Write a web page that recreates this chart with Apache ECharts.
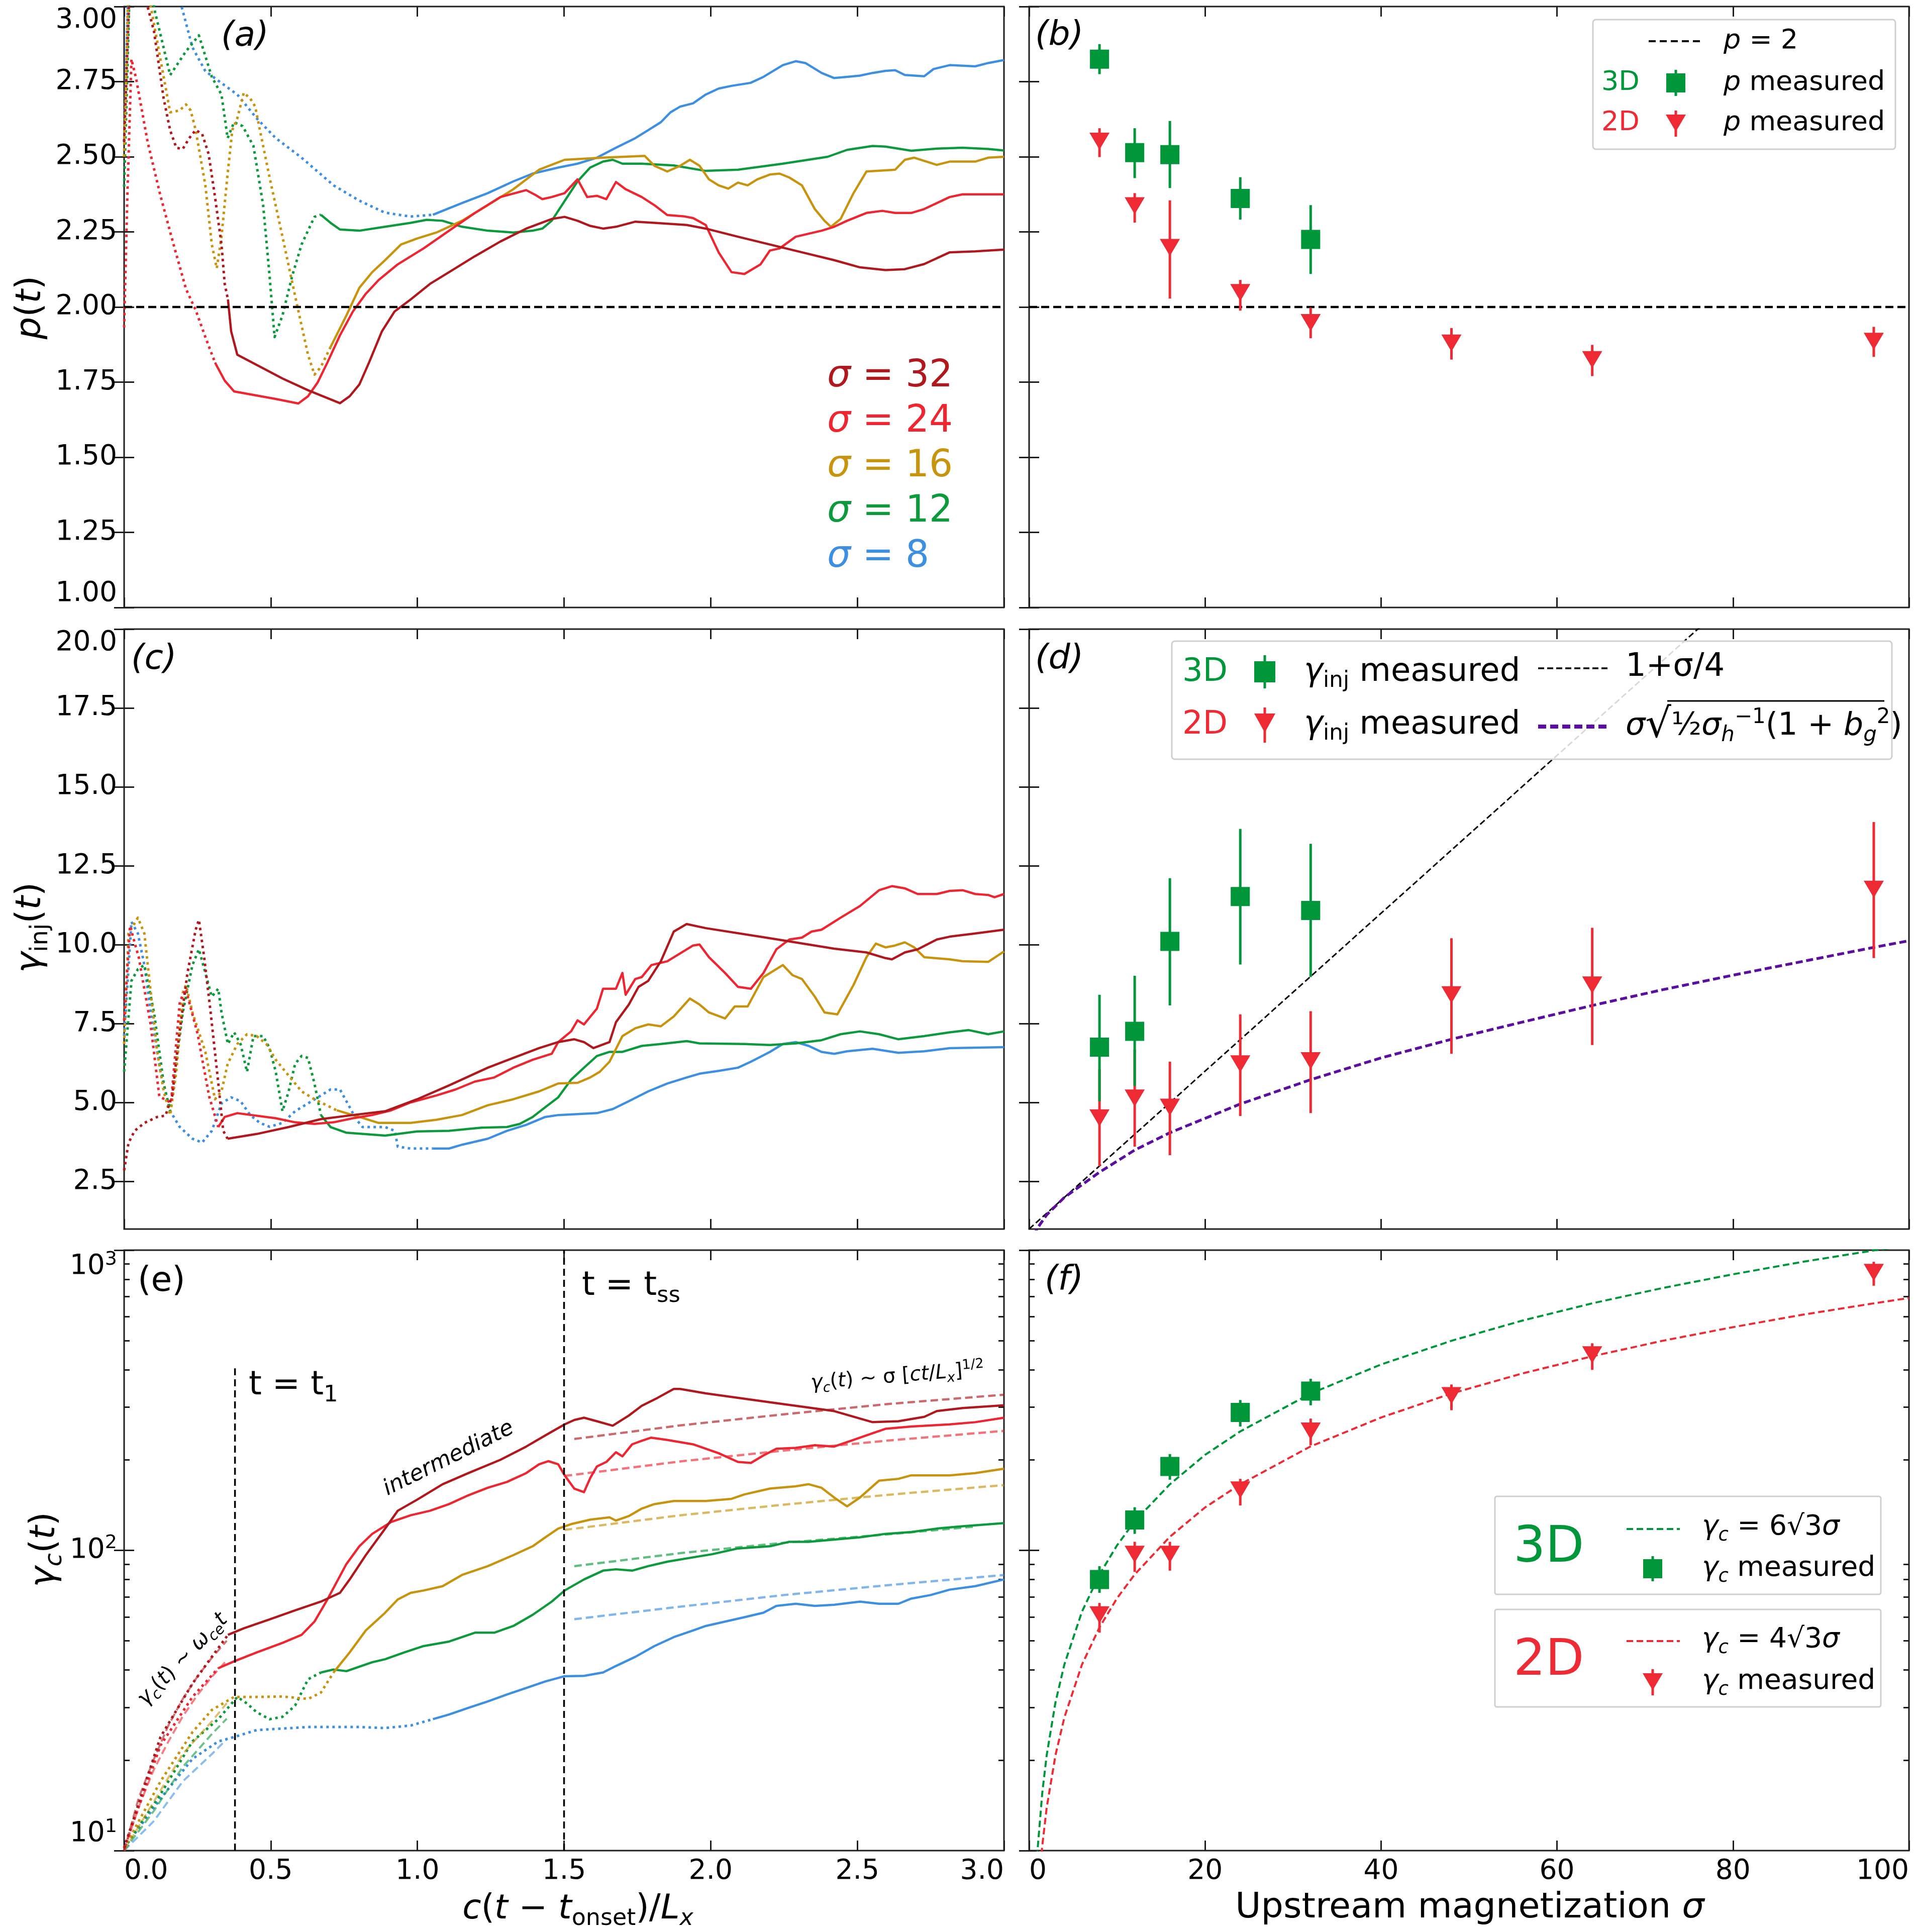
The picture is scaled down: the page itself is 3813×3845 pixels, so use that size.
<!DOCTYPE html>
<html><head><meta charset="utf-8">
<script src="https://cdn.jsdelivr.net/npm/echarts@6.0.0/dist/echarts.min.js"></script>
<style>html,body{margin:0;padding:0;background:#fff;}#chart{width:3813px;height:3845px;}</style>
</head><body><div id="chart"></div>
<script>
// ---------------- DATA ----------------
// panel (a): p(t) curves, [c(t-t_onset)/Lx, p]
const a32dot = [[0.0,2.55],[0.02,3.1],[0.07,3.1],[0.080,3.0],[0.102,2.917],[0.135,2.693],[0.157,2.588],[0.178,2.530],[0.200,2.526],[0.222,2.562],[0.244,2.589],[0.266,2.576],[0.288,2.510],[0.310,2.366],[0.332,2.208],[0.343,2.077],[0.354,2.025]];
const a32sol = [[0.354,2.025],[0.365,1.919],[0.386,1.841],[0.540,1.762],[0.627,1.723],[0.736,1.680],[0.769,1.703],[0.802,1.742],[0.835,1.815],[0.879,1.919],[0.922,1.985],[0.977,2.025],[1.043,2.077],[1.108,2.116],[1.196,2.169],[1.283,2.218],[1.371,2.261],[1.458,2.293],[1.502,2.300],[1.546,2.287],[1.589,2.270],[1.633,2.261],[1.677,2.267],[1.743,2.284],[1.808,2.280],[1.918,2.273],[1.983,2.261],[2.093,2.234],[2.202,2.208],[2.311,2.182],[2.421,2.156],[2.509,2.132],[2.596,2.123],[2.662,2.126],[2.728,2.143],[2.815,2.182],[2.902,2.185],[3.0,2.191]];
const a24dot = [[0.0,1.932],[0.011,2.366],[0.025,2.825],[0.041,2.76],[0.080,2.55],[0.124,2.37],[0.168,2.21],[0.211,2.06],[0.244,1.99],[0.277,1.90],[0.310,1.815]];
const a24sol = [[0.310,1.815],[0.343,1.755],[0.375,1.719],[0.517,1.694],[0.594,1.679],[0.627,1.703],[0.660,1.749],[0.693,1.815],[0.736,1.906],[0.780,1.985],[0.824,2.044],[0.868,2.090],[0.933,2.142],[1.021,2.195],[1.108,2.254],[1.196,2.313],[1.283,2.366],[1.371,2.389],[1.404,2.372],[1.426,2.359],[1.458,2.366],[1.502,2.379],[1.546,2.425],[1.557,2.405],[1.579,2.366],[1.612,2.370],[1.644,2.359],[1.677,2.416],[1.710,2.392],[1.765,2.366],[1.808,2.339],[1.852,2.306],[1.907,2.302],[1.940,2.296],[1.983,2.273],[2.027,2.182],[2.071,2.116],[2.115,2.110],[2.170,2.142],[2.202,2.188],[2.235,2.195],[2.290,2.234],[2.378,2.254],[2.421,2.267],[2.465,2.287],[2.531,2.313],[2.585,2.320],[2.629,2.313],[2.684,2.313],[2.728,2.326],[2.815,2.366],[2.859,2.375],[3.0,2.375]];
const a16dot = [[0.0,2.5],[0.015,3.1],[0.084,3.1],[0.091,3.0],[0.157,2.648],[0.189,2.654],[0.211,2.674],[0.227,2.654],[0.244,2.589],[0.277,2.405],[0.299,2.208],[0.316,2.129],[0.332,2.234],[0.353,2.444],[0.369,2.589],[0.386,2.628],[0.408,2.713],[0.430,2.694],[0.447,2.667],[0.463,2.589],[0.496,2.431],[0.540,2.234],[0.583,2.037],[0.627,1.841],[0.649,1.775],[0.671,1.801],[0.704,1.867]];
const a16sol = [[0.704,1.867],[0.758,1.972],[0.802,2.064],[0.846,2.116],[0.890,2.156],[0.944,2.208],[0.999,2.228],[1.065,2.248],[1.152,2.287],[1.240,2.339],[1.327,2.392],[1.415,2.457],[1.502,2.490],[1.633,2.497],[1.775,2.503],[1.808,2.470],[1.852,2.451],[1.896,2.470],[1.929,2.490],[1.962,2.470],[1.994,2.425],[2.027,2.405],[2.060,2.394],[2.093,2.414],[2.126,2.405],[2.159,2.425],[2.202,2.441],[2.235,2.444],[2.268,2.431],[2.311,2.405],[2.355,2.326],[2.388,2.287],[2.410,2.267],[2.443,2.293],[2.487,2.379],[2.531,2.451],[2.596,2.455],[2.629,2.457],[2.662,2.490],[2.694,2.497],[2.771,2.473],[2.815,2.484],[2.902,2.484],[2.946,2.497],[3.0,2.500]];
const a12dot = [[0.0,2.40],[0.02,3.1],[0.09,3.1],[0.102,2.996],[0.157,2.772],[0.211,2.851],[0.255,2.904],[0.299,2.766],[0.332,2.707],[0.353,2.562],[0.375,2.615],[0.404,2.602],[0.441,2.536],[0.474,2.339],[0.496,2.103],[0.513,1.900],[0.540,1.972],[0.573,2.103],[0.605,2.208],[0.649,2.300],[0.671,2.307]];
const a12sol = [[0.671,2.307],[0.704,2.280],[0.736,2.258],[0.802,2.254],[0.890,2.267],[0.977,2.280],[1.032,2.290],[1.086,2.287],[1.152,2.267],[1.240,2.254],[1.327,2.248],[1.393,2.254],[1.426,2.261],[1.458,2.287],[1.502,2.353],[1.546,2.418],[1.589,2.464],[1.633,2.484],[1.666,2.490],[1.699,2.477],[1.765,2.477],[1.874,2.471],[1.983,2.453],[2.093,2.457],[2.246,2.477],[2.399,2.500],[2.465,2.523],[2.552,2.536],[2.596,2.534],[2.684,2.520],[2.771,2.527],[2.859,2.530],[2.946,2.526],[3.0,2.521]];
const a8dot = [[0.0,2.55],[0.015,3.1],[0.19,3.1],[0.196,3.0],[0.233,2.864],[0.277,2.785],[0.331,2.746],[0.386,2.707],[0.452,2.628],[0.517,2.562],[0.605,2.497],[0.714,2.405],[0.802,2.354],[0.889,2.314],[0.977,2.301],[1.053,2.307]];
const a8sol = [[1.053,2.307],[1.152,2.346],[1.240,2.379],[1.327,2.418],[1.393,2.444],[1.480,2.464],[1.546,2.477],[1.612,2.497],[1.677,2.530],[1.743,2.562],[1.786,2.588],[1.830,2.615],[1.863,2.648],[1.896,2.667],[1.940,2.678],[1.983,2.707],[2.027,2.727],[2.071,2.736],[2.136,2.746],[2.180,2.766],[2.202,2.779],[2.246,2.805],[2.290,2.818],[2.323,2.812],[2.378,2.779],[2.421,2.762],[2.465,2.766],[2.509,2.770],[2.552,2.779],[2.596,2.786],[2.629,2.788],[2.662,2.772],[2.728,2.768],[2.760,2.792],[2.815,2.805],[2.902,2.801],[2.946,2.812],[3.0,2.822]];
const pRef = [[0,2],[3,2]];
const pRefB = [[0,2],[100,2]];

// panel (c): gamma_inj(t)
const c32dot = [[0.0,2.86],[0.015,3.73],[0.036,4.11],[0.069,4.36],[0.113,4.55],[0.141,4.59],[0.164,5.23],[0.189,7.23],[0.216,9.11],[0.244,10.48],[0.255,10.79],[0.273,9.61],[0.295,7.86],[0.317,5.98],[0.338,4.11],[0.353,3.86]];
const c32sol = [[0.353,3.86],[0.452,4.01],[0.561,4.23],[0.671,4.48],[0.780,4.61],[0.890,4.73],[0.999,5.11],[1.108,5.55],[1.240,6.11],[1.327,6.42],[1.415,6.73],[1.480,6.92],[1.535,7.01],[1.568,6.92],[1.600,6.73],[1.655,6.92],[1.677,7.55],[1.721,8.11],[1.754,8.67],[1.787,8.86],[1.830,9.48],[1.874,10.42],[1.918,10.66],[1.983,10.53],[2.202,10.21],[2.421,9.88],[2.531,9.76],[2.596,9.58],[2.618,9.54],[2.662,9.76],[2.706,9.86],[2.771,10.17],[2.815,10.26],[2.902,10.36],[3.0,10.48]];
const c24dot = [[0.0,7.6],[0.02,10.6],[0.05,9.6],[0.09,7.5],[0.12,5.2],[0.16,5.0],[0.19,8.2],[0.21,8.6],[0.25,7.2],[0.29,5.2],[0.321,4.23]];
const c24sol = [[0.321,4.23],[0.343,4.55],[0.386,4.67],[0.517,4.51],[0.583,4.38],[0.649,4.33],[0.714,4.38],[0.780,4.51],[0.846,4.61],[0.911,4.76],[0.977,5.01],[1.065,5.23],[1.130,5.42],[1.196,5.67],[1.262,5.80],[1.327,6.11],[1.393,6.36],[1.458,6.55],[1.480,6.92],[1.524,7.26],[1.546,7.61],[1.568,7.48],[1.612,7.98],[1.633,8.61],[1.677,8.61],[1.699,9.11],[1.710,8.42],[1.743,8.92],[1.765,8.98],[1.798,9.36],[1.852,9.48],[1.896,9.73],[1.940,9.98],[1.962,10.01],[1.994,9.61],[2.049,9.11],[2.093,8.67],[2.137,8.61],[2.180,9.11],[2.224,9.86],[2.268,10.17],[2.311,10.23],[2.344,10.42],[2.378,10.48],[2.443,10.86],[2.509,11.23],[2.574,11.73],[2.618,11.86],[2.662,11.79],[2.706,11.61],[2.771,11.61],[2.815,11.71],[2.859,11.73],[2.902,11.61],[2.946,11.58],[2.968,11.51],[3.0,11.61]];
const c16dot = [[0.0,6.86],[0.015,10.36],[0.047,10.86],[0.069,10.36],[0.091,8.48],[0.113,6.61],[0.135,5.36],[0.157,4.61],[0.178,5.98],[0.200,8.48],[0.211,8.73],[0.233,7.86],[0.277,6.61],[0.310,5.11],[0.332,5.36],[0.353,6.23],[0.386,6.86],[0.419,7.17],[0.452,7.11],[0.485,6.86],[0.517,6.36],[0.561,5.86],[0.605,5.36],[0.649,5.11],[0.725,4.76]];
const c16sol = [[0.725,4.76],[0.758,4.67],[0.802,4.55],[0.868,4.36],[0.977,4.36],[1.065,4.46],[1.152,4.61],[1.240,4.92],[1.327,5.11],[1.415,5.36],[1.480,5.61],[1.546,5.63],[1.589,5.80],[1.622,5.98],[1.655,6.30],[1.699,7.11],[1.743,7.36],[1.787,7.48],[1.830,7.42],[1.874,7.73],[1.929,8.30],[1.962,8.11],[1.994,7.86],[2.049,7.67],[2.082,8.05],[2.126,8.05],[2.180,8.98],[2.246,9.36],[2.279,9.04],[2.311,8.92],[2.355,8.36],[2.388,7.86],[2.432,7.80],[2.487,8.73],[2.531,9.61],[2.563,10.04],[2.596,9.92],[2.629,9.98],[2.662,10.08],[2.694,9.92],[2.728,9.61],[2.815,9.54],[2.859,9.48],[2.946,9.46],[3.0,9.79]];
const c12dot = [[0.0,5.98],[0.025,8.86],[0.047,9.23],[0.069,9.36],[0.102,7.86],[0.135,5.61],[0.157,4.73],[0.200,7.86],[0.233,9.36],[0.255,9.86],[0.277,9.11],[0.299,8.36],[0.321,8.61],[0.332,7.86],[0.354,6.86],[0.375,7.23],[0.397,6.86],[0.419,5.98],[0.441,7.11],[0.474,7.11],[0.496,6.73],[0.517,5.98],[0.540,4.73],[0.561,5.36],[0.583,6.23],[0.605,6.48],[0.627,6.42],[0.649,5.61],[0.671,4.61]];
const c12sol = [[0.671,4.61],[0.704,4.23],[0.758,4.05],[0.890,3.96],[0.999,4.09],[1.108,4.11],[1.218,4.21],[1.305,4.23],[1.349,4.33],[1.393,4.55],[1.436,4.86],[1.480,5.17],[1.524,5.73],[1.568,6.11],[1.612,6.48],[1.655,6.61],[1.699,6.61],[1.765,6.80],[1.830,6.86],[1.918,6.95],[1.962,6.88],[2.115,6.86],[2.202,6.83],[2.290,6.88],[2.378,6.98],[2.443,7.17],[2.509,7.26],[2.574,7.17],[2.640,7.01],[2.728,7.11],[2.815,7.23],[2.880,7.30],[2.946,7.17],[3.0,7.26]];
const c8dot = [[0.0,7.11],[0.025,10.73],[0.047,10.36],[0.069,9.36],[0.091,7.86],[0.124,5.99],[0.157,4.74],[0.189,4.24],[0.233,3.86],[0.266,3.74],[0.299,4.11],[0.332,4.98],[0.365,5.17],[0.397,5.05],[0.430,4.61],[0.463,4.36],[0.496,4.24],[0.540,4.36],[0.583,4.73],[0.627,4.98],[0.671,5.23],[0.704,5.42],[0.736,5.42],[0.769,4.86],[0.791,4.48],[0.813,4.23],[0.890,4.23],[0.923,4.11],[0.933,3.61],[0.977,3.55],[1.053,3.55]];
const c8sol = [[1.053,3.55],[1.108,3.55],[1.152,3.67],[1.240,3.86],[1.305,4.11],[1.371,4.30],[1.436,4.55],[1.480,4.61],[1.612,4.67],[1.666,4.80],[1.721,5.05],[1.787,5.36],[1.852,5.61],[1.918,5.80],[1.962,5.92],[2.027,6.01],[2.093,6.11],[2.137,6.30],[2.202,6.61],[2.246,6.86],[2.290,6.92],[2.334,6.80],[2.378,6.61],[2.421,6.55],[2.465,6.63],[2.552,6.71],[2.640,6.58],[2.728,6.63],[2.815,6.73],[3.0,6.76]];

// panel (e): gamma_c(t)
const e32dot = [[0,10.2],[0.124,23.9],[0.233,36.0],[0.299,44.2],[0.354,52.3]];
const e32sol = [[0.354,52.3],[0.408,55.0],[0.496,58.9],[0.583,63.1],[0.671,67.5],[0.736,72.2],[0.769,80.0],[0.824,96.4],[0.890,118.2],[0.933,135.5],[0.999,147.5],[1.086,166.1],[1.174,180.9],[1.283,200.3],[1.371,221.7],[1.436,241.4],[1.502,262.8],[1.535,271.9],[1.568,276.6],[1.612,269.2],[1.666,260.2],[1.721,281.3],[1.765,303.1],[1.819,322.2],[1.874,344.9],[1.896,344.9],[1.983,333.4],[2.202,311.5],[2.421,291.0],[2.552,267.3],[2.640,269.2],[2.728,278.4],[2.771,291.0],[2.859,298.0],[3.0,304.2]];
const e24dot = [[0,10.2],[0.124,22.4],[0.233,32.5],[0.321,40.5]];
const e24sol = [[0.321,40.5],[0.375,42.7],[0.452,45.7],[0.540,49.2],[0.605,52.3],[0.649,57.9],[0.693,68.6],[0.758,90.1],[0.802,103.2],[0.846,113.5],[0.911,124.4],[0.977,130.9],[1.043,135.5],[1.108,142.6],[1.174,152.6],[1.240,161.6],[1.305,169.0],[1.371,180.9],[1.415,193.6],[1.447,198.2],[1.480,193.6],[1.502,177.8],[1.535,160.6],[1.568,156.3],[1.590,174.8],[1.612,190.3],[1.644,197.0],[1.677,212.2],[1.699,205.7],[1.732,225.5],[1.765,231.7],[1.797,237.4],[1.852,233.3],[1.940,225.5],[2.027,210.7],[2.093,197.0],[2.137,195.5],[2.180,207.2],[2.224,218.0],[2.290,219.5],[2.355,223.9],[2.421,221.7],[2.487,233.3],[2.552,245.6],[2.596,254.1],[2.684,258.5],[2.815,262.8],[2.902,267.3],[3.0,276.6]];
const e16dot = [[0,10.2],[0.124,17.0],[0.233,24.8],[0.299,29.4],[0.375,32.5],[0.452,32.5],[0.540,32.6],[0.627,32.0],[0.671,33.6],[0.714,39.2]];
const e16sol = [[0.714,39.2],[0.769,45.7],[0.824,54.1],[0.890,62.0],[0.933,68.6],[0.977,72.2],[1.021,73.5],[1.086,76.0],[1.152,82.8],[1.240,88.6],[1.327,96.4],[1.393,103.2],[1.436,110.5],[1.480,118.2],[1.524,122.3],[1.590,126.6],[1.655,128.8],[1.677,125.7],[1.721,130.1],[1.765,137.8],[1.808,142.6],[1.874,146.0],[1.983,146.0],[2.071,148.5],[2.115,153.6],[2.202,160.6],[2.290,163.4],[2.334,166.1],[2.378,161.6],[2.421,150.0],[2.465,140.2],[2.509,150.0],[2.574,170.7],[2.640,173.1],[2.684,177.8],[2.815,177.8],[2.902,180.9],[3.0,187.1]];
const e12dot = [[0,10.2],[0.124,15.4],[0.233,23.1],[0.321,27.4],[0.386,32.5],[0.419,30.9],[0.452,28.9],[0.496,27.4],[0.540,27.9],[0.583,30.4],[0.627,37.2],[0.671,39.2]];
const e12sol = [[0.671,39.2],[0.714,40.1],[0.758,39.6],[0.846,42.4],[0.890,43.4],[0.955,45.7],[1.021,48.0],[1.108,49.7],[1.152,51.4],[1.196,53.2],[1.262,53.2],[1.327,56.0],[1.393,61.0],[1.458,67.5],[1.502,73.5],[1.568,80.0],[1.633,85.6],[1.677,86.5],[1.732,85.6],[1.787,88.6],[1.852,91.7],[1.940,94.8],[2.005,97.1],[2.093,101.5],[2.202,103.2],[2.268,106.8],[2.334,106.8],[2.421,108.6],[2.509,110.5],[2.596,113.5],[2.684,115.1],[2.771,118.2],[2.859,120.3],[3.0,123.2]];
const e8dot = [[0,10.2],[0.124,14.9],[0.233,20.2],[0.321,23.1],[0.375,23.9],[0.452,25.2],[0.627,25.8],[0.802,25.8],[0.890,25.6],[0.977,26.1],[1.053,27.4]];
const e8sol = [[1.053,27.4],[1.108,28.4],[1.174,29.9],[1.240,31.4],[1.305,33.1],[1.371,34.8],[1.436,36.6],[1.502,38.1],[1.568,38.2],[1.633,39.2],[1.677,41.2],[1.743,44.2],[1.808,48.0],[1.874,51.4],[1.940,54.1],[1.983,56.0],[2.049,57.9],[2.115,59.9],[2.180,62.0],[2.224,65.3],[2.290,66.4],[2.355,65.3],[2.421,65.9],[2.509,67.5],[2.574,66.4],[2.640,66.4],[2.684,69.1],[2.750,71.0],[2.815,74.0],[2.902,76.0],[3.0,80.0]];
// early-time guide lines gamma_c ~ omega t
const e32g = [[0,10],[0.05,15],[0.1,20],[0.15,26],[0.2,32],[0.25,38],[0.3,44],[0.35,50]];
const e24g = [[0,10],[0.05,14],[0.1,18.5],[0.15,23],[0.2,28],[0.25,33],[0.3,38],[0.35,43]];
const e16g = [[0,10],[0.1,14.5],[0.2,21],[0.3,27],[0.35,31]];
const e12g = [[0,10],[0.1,13.5],[0.2,19],[0.3,24.5],[0.35,27.5]];
const e8g  = [[0,10],[0.1,12.5],[0.2,17],[0.3,21],[0.35,23.5]];
// late-time guide lines gamma_c ~ sigma sqrt(t)
const e32s = [[1.535,235],[1.9,261],[2.25,284],[2.6,307],[3.0,330]];
const e24s = [[1.502,177],[1.9,198],[2.25,215],[2.6,232],[3.0,250]];
const e16s = [[1.502,117],[1.9,131],[2.25,142],[2.6,153],[3.0,165]];
const e12s = [[1.535,88.6],[1.9,98],[2.25,106],[2.6,113],[2.9,120]];
const e8s  = [[1.535,59],[1.9,65],[2.25,71],[2.6,76.5],[3.0,82.8]];
const eT1  = [[0.378,10],[0.378,404]];
const eTss = [[1.5,10],[1.5,1000]];

// panels (b),(d),(f): sigma scans
const sig3 = [8,12,16,24,32];
const sig2 = [8,12,16,24,32,48,64,96];
const b3 = [2.825,2.514,2.507,2.361,2.225], b3lo = [2.775,2.429,2.396,2.291,2.110], b3hi = [2.875,2.595,2.619,2.432,2.339];
const b2 = [2.552,2.337,2.198,2.048,1.948,1.880,1.825,1.886], b2lo = [2.499,2.281,2.028,1.988,1.896,1.825,1.770,1.834], b2hi = [2.595,2.379,2.355,2.090,1.998,1.930,1.874,1.934];
const d3 = [6.76,7.26,10.11,11.53,11.09], d3lo = [5.05,5.53,8.08,9.38,8.98], d3hi = [8.42,9.02,12.11,13.67,13.20];
const d2 = [4.52,5.15,4.86,6.23,6.33,8.42,8.73,11.76], d2lo = [2.99,3.61,3.34,4.58,4.67,6.55,6.83,9.58], d2hi = [6.06,6.68,6.30,7.80,7.90,10.21,10.54,13.89];
const f3 = [80.0,126.2,190.3,288.0,339.2], f3lo = [72.2,113.5,171.9,258.5,304.2], f3hi = [88.6,139.2,209.3,316.8,372.9];
const f2 = [61.0,97.1,97.1,158.9,249.8,327.7,448.2,843.0], f2lo = [53.2,84.8,85.6,141.1,223.9,293.0,399.2,761.3], f2hi = [66.8,106.8,106.8,173.1,274.8,356.9,489.5,914.8];
const dLin = [[0,1],[100,26]];
const dPurple = [[0.5,0.8],[1,1.05],[2,1.45],[4,2.0],[8,2.8],[12,3.5],[16,4.05],[24,4.96],[32,5.73],[40,6.42],[48,7.01],[56,7.55],[64,8.08],[72,8.58],[80,9.04],[88,9.48],[96,9.92],[100,10.13]];
const fGreen = [[0.85,8.8],[1,10.4],[1.5,15.6],[2,20.8],[3,31.2],[4,41.6],[6,62.4],[8,83.1],[10,104],[12,125],[16,166],[20,208],[24,249],[32,333],[40,416],[48,499],[56,582],[64,665],[72,748],[80,831],[88,915],[96,998],[100,1039]];
const fRed = [[1.3,9.0],[1.5,10.4],[2,13.9],[3,20.8],[4,27.7],[6,41.6],[8,55.4],[10,69.3],[12,83.1],[16,111],[20,139],[24,166],[32,222],[40,277],[48,333],[56,388],[64,443],[72,499],[80,554],[88,610],[96,665],[100,693]];

// tick labels
const yTicksC = [2.5,5,7.5,10,12.5,15,17.5,20];
const yMinorLog = [20,30,40,50,60,70,80,90,200,300,400,500,600,700,800,900];

// ---------------- STYLE ----------------
const F = 'DejaVu Sans';
const AX = '#1e1e1e';
const C32 = '#b1181e', C24 = '#ee2631', C16 = '#c8940d', C12 = '#0c9a3c', C8 = '#3d8fe2';
const G3 = '#00963a', R2 = '#ee2a35', PUR = '#5a0f9e';
const GRIDS = [[247,13,1751,1196],[2048,13,1751,1196],[247,1252,1751,1194],[2048,1252,1751,1194],[247,2488,1751,1195],[2048,2488,1751,1195]];

const L10 = v => Math.log10(v);
const tr = (arr, log) => arr.map(p => [p[0], log ? L10(p[1]) : p[1]]);

const grids = GRIDS.map(g => ({left:g[0], top:g[1], width:g[2], height:g[3], show:true, borderColor:AX, borderWidth:3, backgroundColor:'rgba(0,0,0,0)', containLabel:false, outerBoundsMode:'none'}));
function tick(len, custom){ const t = {show:true, inside:true, length:len, lineStyle:{color:AX, width:3}}; if (custom) t.customValues = custom; return t; }

const xAxes = [], yAxes = [];
const XR = [[0,3,0.5],[0,100,20]];
for (let g = 0; g < 6; g++) {
  const col = g % 2, row = Math.floor(g / 2);
  const [mn, mx, iv] = XR[col];
  xAxes.push({type:'value', gridIndex:g, min:mn, max:mx, interval:iv, position:'bottom', axisLine:{show:false}, splitLine:{show:false}, axisTick:tick(20),
    axisLabel:{show: row === 2, fontSize:55, fontFamily:F, color:'#000', margin:14, alignMinLabel:'left', alignMaxLabel:'right',
      formatter: col === 0 ? (v => v.toFixed(1)) : (v => String(Math.round(v)))}});
  xAxes.push({type:'value', gridIndex:g, min:mn, max:mx, interval:iv, position:'top', axisLine:{show:false}, splitLine:{show:false}, axisTick:tick(20), axisLabel:{show:false}});
}
const logRich = {a:{fontSize:55, fontFamily:F, color:'#000', lineHeight:66}, s:{fontSize:38, fontFamily:F, color:'#000', lineHeight:40, verticalAlign:'top'}};
for (let g = 0; g < 6; g++) {
  const col = g % 2, row = Math.floor(g / 2);
  for (const pos of ['left','right']) {
    const showLab = (pos === 'left' && col === 0);
    const ax = {type:'value', gridIndex:g, position:pos, axisLine:{show:false}, splitLine:{show:false}};
    if (row === 0) {
      Object.assign(ax, {min:1, max:3, interval:0.25, axisTick:tick(20),
        axisLabel:{show:showLab, fontSize:55, fontFamily:F, color:'#000', margin:14, verticalAlignMinLabel:'bottom', verticalAlignMaxLabel:'top', formatter:v => v.toFixed(2)}});
    } else if (row === 1) {
      Object.assign(ax, {min:1, max:20, axisTick:tick(20, yTicksC),
        axisLabel:{show:showLab, customValues:yTicksC, fontSize:55, fontFamily:F, color:'#000', margin:14, verticalAlignMaxLabel:'top', formatter:v => v.toFixed(1)}});
    } else {
      Object.assign(ax, {min:1, max:3, interval:1, axisTick:tick(20),
        axisLabel:{show:showLab, fontSize:55, fontFamily:F, color:'#000', margin:14, verticalAlignMinLabel:'bottom', verticalAlignMaxLabel:'top', rich:logRich,
          formatter:v => '{a|10}{s|' + Math.round(v) + '}'}});
    }
    yAxes.push(ax);
  }
}
// minor log ticks (indices 12..15)
for (const g of [4,5]) for (const pos of ['left','right']) {
  yAxes.push({type:'value', gridIndex:g, position:pos, min:1, max:3, axisLine:{show:false}, splitLine:{show:false},
    axisTick:tick(11, yMinorLog.map(L10)), axisLabel:{show:false}});
}

const series = [];
function line(g, data, color, dash, width, opts) {
  series.push(Object.assign({type:'line', xAxisIndex:2*g, yAxisIndex:2*g, data:data, showSymbol:false, symbol:'none', clip:true, silent:true, animation:false,
    lineStyle:{color:color, width:width, type:dash, cap:'butt', join:'round'}, z:2}, opts || {}));
}
const DOT = [5,7], DASH = [15,8];
// (a)
const aSets = [[a8dot,a8sol,C8],[a12dot,a12sol,C12],[a16dot,a16sol,C16],[a24dot,a24sol,C24],[a32dot,a32sol,C32]];
aSets.forEach(s => { line(0, s[0], s[2], DOT, 5); line(0, s[1], s[2], 'solid', 4.5); });
line(0, pRef, '#000', [16,8], 4.5, {z:4});
// (c)
const cSets = [[c8dot,c8sol,C8],[c12dot,c12sol,C12],[c16dot,c16sol,C16],[c24dot,c24sol,C24],[c32dot,c32sol,C32]];
cSets.forEach(s => { line(2, s[0], s[2], DOT, 5); line(2, s[1], s[2], 'solid', 4.5); });
// (e)
const eSets = [[e8dot,e8sol,e8g,e8s,C8],[e12dot,e12sol,e12g,e12s,C12],[e16dot,e16sol,e16g,e16s,C16],[e24dot,e24sol,e24g,e24s,C24],[e32dot,e32sol,e32g,e32s,C32]];
eSets.forEach(s => {
  line(4, tr(s[2],true), s[4], DASH, 4, {lineStyle:{color:s[4], width:4, type:DASH, opacity:0.6}});
  line(4, tr(s[3],true), s[4], DASH, 4.5, {lineStyle:{color:s[4], width:4.5, type:DASH, opacity:0.65}});
  line(4, tr(s[0],true), s[4], DOT, 5);
  line(4, tr(s[1],true), s[4], 'solid', 4.5);
});
line(4, tr(eT1,true), '#000', [14,8], 3.5, {z:4});
line(4, tr(eTss,true), '#000', [14,8], 3.5, {z:4});
// (b)
line(1, pRefB, '#000', [16,8], 4.5, {z:4});
// (d)
line(3, dLin, '#000', [12,6], 3, {z:2});
line(3, dPurple, PUR, [14,7], 5.5, {z:2});
// (f)
line(5, tr(fGreen,true), G3, [13,7], 4, {z:2});
line(5, tr(fRed,true), R2, [13,7], 4, {z:2});

function errs(g, xs, lo, hi, color, log, z) {
  series.push({type:'custom', xAxisIndex:2*g, yAxisIndex:2*g, z:z, silent:true, animation:false, clip:true,
    data: xs.map((x,i) => [x, log ? L10(lo[i]) : lo[i], log ? L10(hi[i]) : hi[i]]),
    renderItem: (params, api) => {
      const a = api.coord([api.value(0), api.value(1)]);
      const b = api.coord([api.value(0), api.value(2)]);
      return {type:'line', shape:{x1:a[0], y1:a[1], x2:b[0], y2:b[1]}, style:{stroke:color, lineWidth:5}};
    }});
}
function marks(g, xs, ys, kind, color, log, z) {
  series.push({type:'scatter', xAxisIndex:2*g, yAxisIndex:2*g, z:z, silent:true, animation:false,
    symbol: kind === 'sq' ? 'rect' : 'triangle', symbolRotate: kind === 'sq' ? 0 : 180, symbolSize: kind === 'sq' ? 38 : [40,34],
    itemStyle:{color:color, opacity:1}, data: xs.map((x,i) => [x, log ? L10(ys[i]) : ys[i]])});
}
// 2D first, then 3D on top
errs(1, sig2, b2lo, b2hi, R2, false, 5); marks(1, sig2, b2, 'tri', R2, false, 6);
errs(1, sig3, b3lo, b3hi, G3, false, 7); marks(1, sig3, b3, 'sq', G3, false, 8);
errs(3, sig2, d2lo, d2hi, R2, false, 5); marks(3, sig2, d2, 'tri', R2, false, 6);
errs(3, sig3, d3lo, d3hi, G3, false, 7); marks(3, sig3, d3, 'sq', G3, false, 8);
errs(5, sig2, f2lo, f2hi, R2, true, 5); marks(5, sig2, f2, 'tri', R2, true, 6);
errs(5, sig3, f3lo, f3hi, G3, true, 7); marks(5, sig3, f3, 'sq', G3, true, 8);

// ---------------- TEXT / LEGENDS ----------------
function rich(size) {
  const lh = Math.round(size * 1.25), ss = Math.round(size * 0.68), slh = Math.round(size * 0.72);
  return {
    n:{fontSize:size, fontFamily:F, lineHeight:lh},
    i:{fontSize:size, fontFamily:F, fontStyle:'italic', lineHeight:lh},
    sb:{fontSize:ss, fontFamily:F, lineHeight:slh, verticalAlign:'bottom'},
    sbi:{fontSize:ss, fontFamily:F, fontStyle:'italic', lineHeight:slh, verticalAlign:'bottom'},
    sp:{fontSize:ss, fontFamily:F, lineHeight:slh, verticalAlign:'top'},
    spi:{fontSize:ss, fontFamily:F, fontStyle:'italic', lineHeight:slh, verticalAlign:'top'},
    big:{fontSize:Math.round(size*1.3), fontFamily:F, lineHeight:lh}
  };
}
function txt(x, y, text, size, fill, opts) {
  const o = Object.assign({align:'left', vAlign:'middle', rot:0}, opts || {});
  return {type:'text', x:x, y:y, rotation:o.rot, z:100, silent:true,
    style:{text:text, fill:fill || '#000', fontSize:size, fontFamily:F, rich:rich(size), align:o.align, verticalAlign:o.vAlign}};
}
const deg = d => d * Math.PI / 180;
const graphic = [];
// panel labels
graphic.push(txt(440, 73, '{i|(a)}', 68));
graphic.push(txt(2060, 72, '{i|(b)}', 68));
graphic.push(txt(261, 1313, '{i|(c)}', 68));
graphic.push(txt(2060, 1313, '{i|(d)}', 68));
graphic.push(txt(274, 2551, '{n|(e)}', 68));
graphic.push(txt(2079, 2549, '{i|(f)}', 68));
// axis titles
graphic.push(txt(62, 612, '{i|p}{n|(}{i|t}{n|)}', 70, '#000', {align:'center', rot:deg(90)}));
graphic.push(txt(62, 1846, '{i|γ}{sb|inj}{n|(}{i|t}{n|)}', 70, '#000', {align:'center', rot:deg(90)}));
graphic.push(txt(90, 3084, '{i|γ}{sbi|c}{n|(}{i|t}{n|)}', 70, '#000', {align:'center', rot:deg(90)}));
graphic.push(txt(1150, 3800, '{i|c}{n|(}{i|t}{n| − }{i|t}{sb|onset}{n|)/}{i|L}{sbi|x}', 68, '#000', {align:'center'}));
graphic.push(txt(2925, 3798, '{n|Upstream magnetization }{i|σ}', 70, '#000', {align:'center'}));
// sigma labels in (a)
[['32',C32,750],['24',C24,840],['16',C16,929],['12',C12,1019],['8',C8,1109]].forEach(s => {
  graphic.push(txt(1646, s[2], '{i|σ}{n| = ' + s[0] + '}', 74, s[1]));
});
// (e) annotations
graphic.push(txt(495, 2758, '{n|t = t}{sb|1}', 66));
graphic.push(txt(1158, 2560, '{n|t = t}{sb|ss}', 66));
graphic.push(txt(893, 2903, '{i|intermediate}', 44, '#000', {align:'center', rot:deg(26.5)}));
graphic.push(txt(364, 3303, '{i|γ}{sbi|c}{n|(}{i|t}{n|) ~ }{i|ω}{sbi|ce}{i|t}', 42, '#000', {align:'center', rot:deg(46)}));
graphic.push(txt(1786, 2740, '{i|γ}{sbi|c}{n|(}{i|t}{n|) ~ σ [}{i|ct}{n|/}{i|L}{sbi|x}{n|]}{sp|1/2}', 40, '#000', {align:'center', rot:deg(4.6)}));

// legend (b)
graphic.push({type:'rect', z:90, silent:true, shape:{x:3170, y:39, width:602, height:258, r:6}, style:{fill:'rgba(255,255,255,0.85)', stroke:'#cfcfcf', lineWidth:3}});
graphic.push({type:'line', z:100, silent:true, shape:{x1:3281, y1:82, x2:3387, y2:82}, style:{stroke:'#000', lineWidth:4, lineDash:[14,8]}});
graphic.push(txt(3430, 82, '{i|p}{n| = 2}', 54));
graphic.push(txt(3187, 165, '{n|3D}', 54, G3));
graphic.push({type:'line', z:100, silent:true, shape:{x1:3335, y1:139, x2:3335, y2:191}, style:{stroke:G3, lineWidth:5}});
graphic.push({type:'rect', z:101, silent:true, shape:{x:3316, y:146, width:38, height:38}, style:{fill:G3}});
graphic.push(txt(3430, 165, '{i|p}{n| measured}', 54));
graphic.push(txt(3187, 245, '{n|2D}', 54, R2));
graphic.push({type:'line', z:100, silent:true, shape:{x1:3335, y1:220, x2:3335, y2:272}, style:{stroke:R2, lineWidth:5}});
graphic.push({type:'polygon', z:101, silent:true, shape:{points:[[3315,228],[3355,228],[3335,262]]}, style:{fill:R2}});
graphic.push(txt(3430, 245, '{i|p}{n| measured}', 54));

// legend (d)
graphic.push({type:'rect', z:90, silent:true, shape:{x:2332, y:1276, width:1433, height:235, r:6}, style:{fill:'rgba(255,255,255,0.85)', stroke:'#cfcfcf', lineWidth:3}});
graphic.push(txt(2353, 1338, '{n|3D}', 64, G3));
graphic.push({type:'line', z:100, silent:true, shape:{x1:2517, y1:1304, x2:2517, y2:1370}, style:{stroke:G3, lineWidth:5}});
graphic.push({type:'rect', z:101, silent:true, shape:{x:2496, y:1316, width:42, height:42}, style:{fill:G3}});
graphic.push(txt(2595, 1338, '{i|γ}{sb|inj}{n| measured}', 64));
graphic.push({type:'line', z:100, silent:true, shape:{x1:3061, y1:1330, x2:3202, y2:1330}, style:{stroke:'#000', lineWidth:3.5, lineDash:[12,6]}});
graphic.push(txt(3235, 1328, '{n|1+σ/4}', 64));
graphic.push(txt(2353, 1443, '{n|2D}', 64, R2));
graphic.push({type:'line', z:100, silent:true, shape:{x1:2517, y1:1408, x2:2517, y2:1478}, style:{stroke:R2, lineWidth:5}});
graphic.push({type:'polygon', z:101, silent:true, shape:{points:[[2496,1420],[2538,1420],[2517,1458]]}, style:{fill:R2}});
graphic.push(txt(2595, 1443, '{i|γ}{sb|inj}{n| measured}', 64));
graphic.push({type:'line', z:100, silent:true, shape:{x1:3061, y1:1446, x2:3202, y2:1446}, style:{stroke:PUR, lineWidth:8, lineDash:[16,8]}});
graphic.push(txt(3235, 1446, '{i|σ}{big|√}{n|½}{i|σ}{sbi|h}{sp|−1}{n|(1 + }{i|b}{sbi|g}{sp|2}{n|)}', 62));
graphic.push({type:'line', z:100, silent:true, shape:{x1:3318, y1:1395, x2:3750, y2:1395}, style:{stroke:'#000', lineWidth:3}});

// legend (f)
graphic.push({type:'rect', z:90, silent:true, shape:{x:2975, y:2978, width:768, height:195, r:4}, style:{fill:'rgba(255,255,255,0.85)', stroke:'#cfcfcf', lineWidth:3}});
graphic.push({type:'rect', z:90, silent:true, shape:{x:2975, y:3203, width:768, height:194, r:4}, style:{fill:'rgba(255,255,255,0.85)', stroke:'#cfcfcf', lineWidth:3}});
graphic.push(txt(3012, 3082, '{n|3D}', 100, G3));
graphic.push({type:'line', z:100, silent:true, shape:{x1:3237, y1:3043, x2:3343, y2:3043}, style:{stroke:G3, lineWidth:4, lineDash:[13,7]}});
graphic.push(txt(3387, 3040, '{i|γ}{sbi|c}{n| = 6√3}{i|σ}', 55));
graphic.push({type:'line', z:100, silent:true, shape:{x1:3289, y1:3097, x2:3289, y2:3147}, style:{stroke:G3, lineWidth:5}});
graphic.push({type:'rect', z:101, silent:true, shape:{x:3270, y:3103, width:38, height:38}, style:{fill:G3}});
graphic.push(txt(3387, 3122, '{i|γ}{sbi|c}{n| measured}', 55));
graphic.push(txt(3012, 3307, '{n|2D}', 100, R2));
graphic.push({type:'line', z:100, silent:true, shape:{x1:3237, y1:3266, x2:3343, y2:3266}, style:{stroke:R2, lineWidth:4, lineDash:[13,7]}});
graphic.push(txt(3387, 3264, '{i|γ}{sbi|c}{n| = 4√3}{i|σ}', 55));
graphic.push({type:'line', z:100, silent:true, shape:{x1:3289, y1:3322, x2:3289, y2:3374}, style:{stroke:R2, lineWidth:5}});
graphic.push({type:'polygon', z:101, silent:true, shape:{points:[[3269,3330],[3309,3330],[3289,3364]]}, style:{fill:R2}});
graphic.push(txt(3387, 3347, '{i|γ}{sbi|c}{n| measured}', 55));

const option = {animation:false, backgroundColor:'#fff', grid:grids, xAxis:xAxes, yAxis:yAxes, series:series, graphic:graphic};
const chart = echarts.init(document.getElementById('chart'), null, {renderer:'canvas', width:3813, height:3845});
chart.setOption(option);
</script></body></html>
